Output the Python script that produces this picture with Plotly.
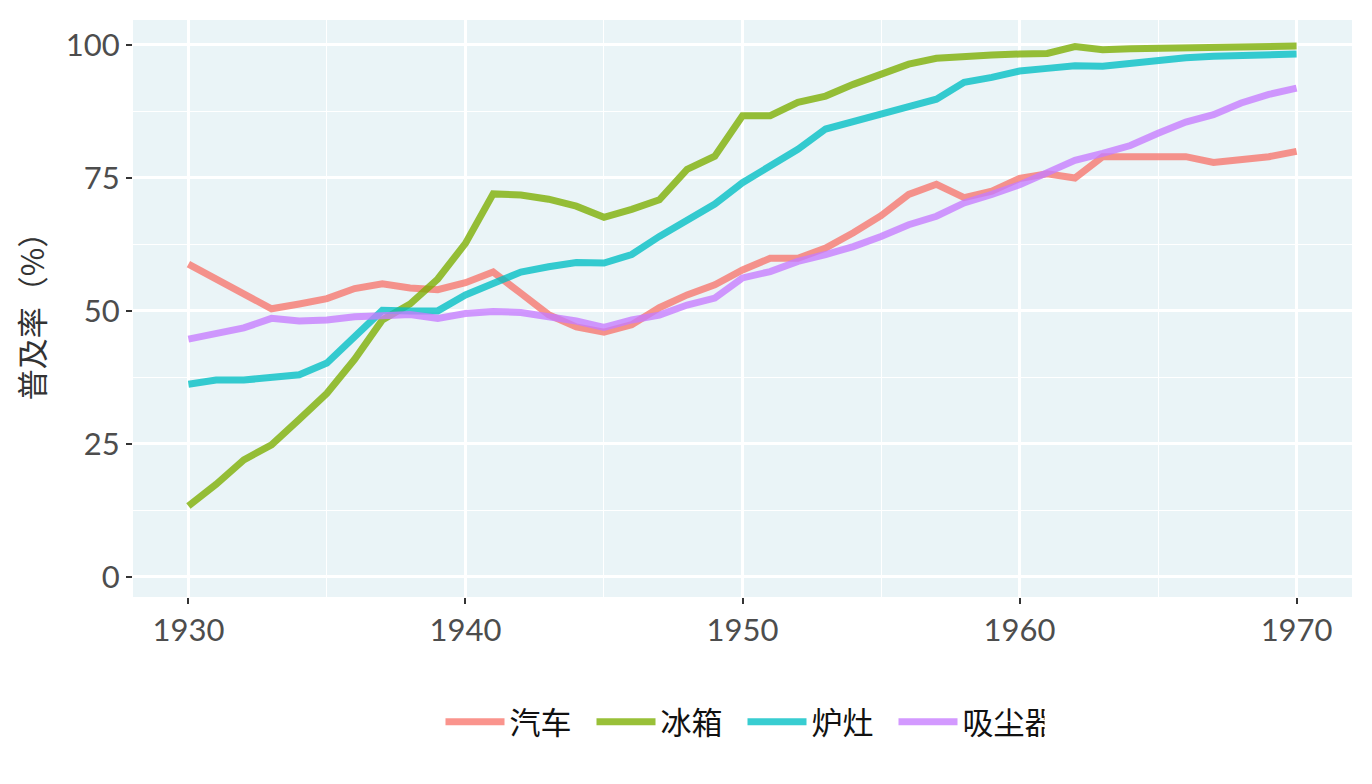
import plotly.graph_objects as go

years = list(range(1930, 1971))

car = [58.8, 56, 53, 50.4, 51.3, 52.3, 54.2, 55.1, 54.3, 54.0,
       55.3, 57.3, 53.3, 49.3, 47.0, 46.0, 47.4, 50.6, 53.0, 54.9,
       57.7, 59.9, 59.9, 61.8, 64.7, 67.9, 71.9, 73.8, 71.3, 72.5,
       74.9, 75.8, 75.0, 79.0, 79.0, 79.0, 79.0, 77.9, 78.4, 79.0,
       80.0]
fridge = [13.3, 17.4, 22.0, 24.8, 29.6, 34.5, 40.9, 48.3, 51.3, 56.0,
          62.7, 72.0, 71.8, 71.0, 69.7, 67.6, 69.1, 70.9, 76.6, 79.1,
          86.7, 86.7, 89.2, 90.4, 92.6, 94.5, 96.4, 97.5, 97.9, 98.1,
          98.3, 98.4, 99.7, 99.1, 99.3, 99.4, 99.6, 99.7, 99.8, 99.8,
          99.8]
stove = [36.2, 37.0, 37.0, 37.5, 38.0, 40.2, 45.2, 50.1, 50.0, 50.0,
         53.0, 55.1, 57.3, 58.3, 59.1, 59.0, 60.6, 64.0, 67.2, 70.1,
         74.1, 77.2, 80.4, 84.2, 85.5, 87.0, 88.4, 89.8, 93.0, 93.9,
         95.1, 95.6, 96.1, 96.0, 96.6, 97.2, 97.6, 97.9, 98.1, 98.1,
         98.3]
vacuum = [44.7, 45.6, 46.8, 48.6, 48.1, 48.3, 48.9, 49.1, 49.3, 48.6,
          49.5, 49.9, 49.7, 48.9, 48.1, 46.9, 48.3, 49.2, 51.1, 52.4,
          56.2, 57.4, 59.3, 60.6, 62.1, 64.0, 66.2, 67.8, 70.3, 71.9,
          73.7, 76.0, 78.3, 79.6, 81.1, 83.4, 85.5, 86.9, 89.1, 90.7,
          91.9]

names = ["汽车", "冰箱", "炉灶", "吸尘器"]
series = [car, fridge, stove, vacuum]
colors = ["#F8766D", "#7CAE00", "#00BFC4", "#C77CFF"]

fig = go.Figure()
for name, vals, col in zip(names, series, colors):
    fig.add_trace(go.Scatter(
        x=years, y=vals, name=name, mode="lines",
        line=dict(color=col, width=7),
        opacity=0.78,
    ))

fig.update_layout(
    width=1372, height=784,
    paper_bgcolor="white",
    plot_bgcolor="#EAF4F7",
    font=dict(family="Lato, Noto Sans CJK SC, sans-serif", size=30, color="#333333"),
    margin=dict(l=125, r=28, t=12, b=195),
    showlegend=True,
    legend=dict(
        orientation="h", x=0.5, xanchor="center", y=-0.217, yanchor="middle",
        font=dict(family="Noto Sans CJK SC, sans-serif", size=31, color="#111111"),
        itemwidth=59, entrywidth=77, entrywidthmode="pixels", tracegroupgap=0,
    ),
    xaxis=dict(
        range=[1928, 1972], tick0=1930, dtick=10,
        showgrid=True, gridcolor="white", gridwidth=2.5,
        minor=dict(dtick=5, tick0=1930, showgrid=True, gridcolor="white", gridwidth=1.2),
        ticks="outside", ticklen=6, tickwidth=2, tickcolor="#333333",
        zeroline=False, showline=False,
        tickfont=dict(size=31, color="#4D4D4D"),
    ),
    yaxis=dict(
        range=[-3.8, 104.7], tick0=0, dtick=25,
        showgrid=True, gridcolor="white", gridwidth=2.5,
        minor=dict(dtick=12.5, tick0=0, showgrid=True, gridcolor="white", gridwidth=1.2),
        ticks="outside", ticklen=6, tickwidth=2, tickcolor="#333333",
        zeroline=False, showline=False,
        tickfont=dict(size=31, color="#4D4D4D"),
        title=dict(text="普及率（%）", standoff=12,
                   font=dict(family="Noto Sans CJK SC, sans-serif", size=31, color="#333333")),
    ),
)

fig.write_html("out.html")
